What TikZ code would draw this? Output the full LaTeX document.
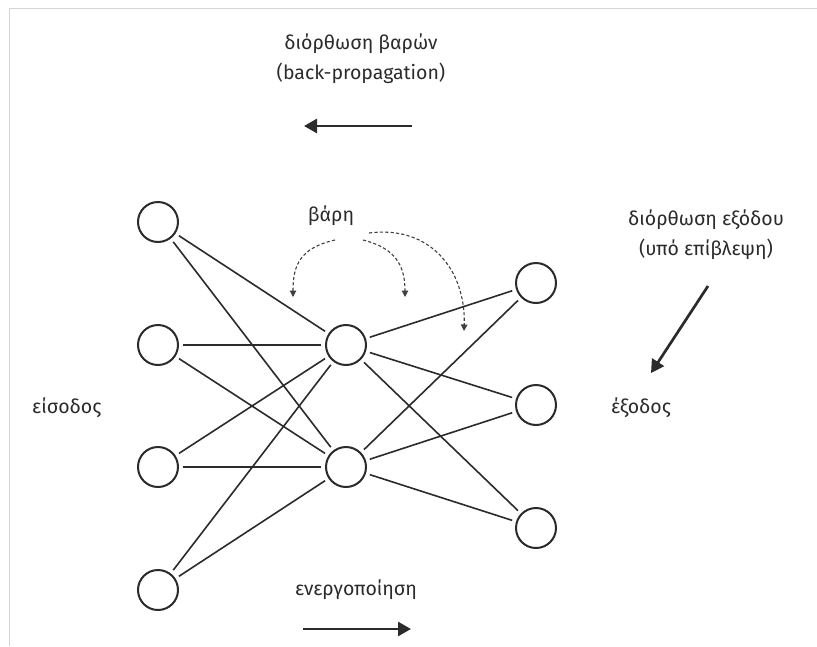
\documentclass[tikz,border=0pt]{standalone}
\usepackage{fontspec}
\setmainfont{Fira Sans}
\usetikzlibrary{arrows.meta}
\definecolor{ink}{HTML}{2B2B2B}
\definecolor{frame}{HTML}{D4D4D4}
\begin{document}
\begin{tikzpicture}[x=1pt,y=-1pt,
  neuron/.style={circle,draw=ink,line width=2pt,minimum size=40pt,inner sep=0pt,outer sep=5pt},
  link/.style={draw=ink,line width=1.6pt},
  bigarrow/.style={draw=ink,line width=2.7pt,-{Triangle[length=13pt,width=14pt]}},
  weightarrow/.style={draw=ink!90,line width=1.1pt,dash pattern=on 3.2pt off 2.2pt,-{Triangle[length=6.5pt,width=6.5pt]}},
  caption/.style={text=ink,font=\fontsize{19.5}{30}\selectfont,align=center,inner sep=0pt}]
\useasboundingbox (0,0) rectangle (817,646);
\fill[white] (0,0) rectangle (817,646);
\draw[frame,line width=1pt] (9,646) -- (9,8) -- (817,8);

% input layer
\node[neuron] (i1) at (158,222) {};
\node[neuron] (i2) at (158,345) {};
\node[neuron] (i3) at (158,467) {};
\node[neuron] (i4) at (158,590) {};
% hidden layer
\node[neuron] (h1) at (346,345) {};
\node[neuron] (h2) at (346,467) {};
% output layer
\node[neuron] (o1) at (536,283) {};
\node[neuron] (o2) at (536,405) {};
\node[neuron] (o3) at (536,528) {};

\foreach \i in {1,...,4}
  \foreach \h in {1,2}
    \draw[link] (i\i) -- (h\h);
\foreach \h in {1,2}
  \foreach \o in {1,2,3}
    \draw[link] (h\h) -- (o\o);

% labels
\node[caption] (wt) at (361,59) {διόρθωση βαρών\\(back-propagation)};
\coordinate (bs) at (412,126);
\coordinate (be) at (304,126);
\draw[bigarrow] (bs) -- (be);

\node[caption] (w) at (331,216) {βάρη};
\coordinate (w1s) at (335,240);
\coordinate (w1e) at (293,297);
\coordinate (w2s) at (363,240);
\coordinate (w2e) at (405,297);
\coordinate (w3s) at (369,233);
\coordinate (w3e) at (464,331);
\draw[weightarrow] (w1s) .. controls (300,248) and (293,265) .. (w1e);
\draw[weightarrow] (w2s) .. controls (395,248) and (405,265) .. (w2e);
\draw[weightarrow] (w3s) .. controls (430,225) and (466,270) .. (w3e);

\node[caption] (ot) at (706,235) {διόρθωση εξόδου\\(υπό επίβλεψη)};
\coordinate (os) at (708,286);
\coordinate (oe) at (651,373);
\draw[bigarrow] (os) -- (oe);

\node[caption,anchor=west] (in) at (32,408) {είσοδος};
\node[caption,anchor=west] (out) at (611,408) {έξοδος};

\node[caption] (act) at (356,590) {ενεργοποίηση};
\coordinate (as) at (303,629);
\coordinate (ae) at (411,629);
\draw[bigarrow] (as) -- (ae);
\end{tikzpicture}
\end{document}
